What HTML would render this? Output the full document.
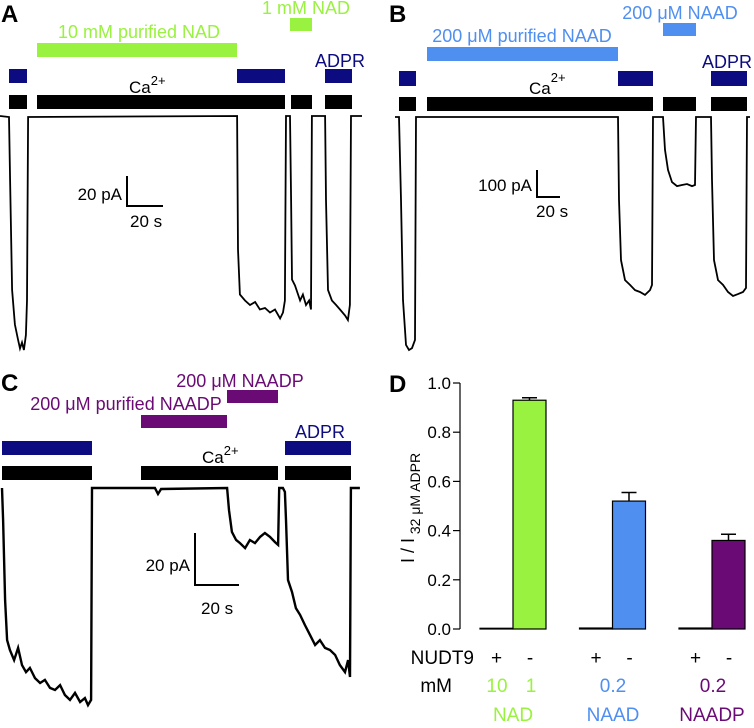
<!DOCTYPE html>
<html><head><meta charset="utf-8">
<style>
html,body{margin:0;padding:0;background:#fff;}
svg{display:block;font-family:"Liberation Sans",Arial,sans-serif;}
</style></head>
<body>
<svg id="fig" width="754" height="728" viewBox="0 0 754 728" xmlns="http://www.w3.org/2000/svg">
<!-- Panel A -->
<g>
<text x="1" y="22" font-size="24" font-weight="bold">A</text>
<text x="139" y="38" font-size="18" fill="#99f23f" text-anchor="middle">10 mM purified NAD</text>
<rect x="37" y="43" width="200" height="14" fill="#99f23f"/>
<text x="306" y="14" font-size="18" fill="#99f23f" text-anchor="middle">1 mM NAD</text>
<rect x="290" y="18" width="22" height="13" fill="#99f23f"/>
<rect x="9" y="69" width="18" height="14" fill="#0c0c80"/>
<rect x="237" y="69" width="48" height="14" fill="#0c0c80"/>
<text x="340" y="67" font-size="18" fill="#0c0c80" text-anchor="middle">ADPR</text>
<rect x="325" y="69" width="27" height="14" fill="#0c0c80"/>
<text x="129" y="93" font-size="17">Ca<tspan font-size="13" dy="-8">2+</tspan></text>
<rect x="9" y="95" width="18" height="14" fill="#000"/>
<rect x="37" y="95" width="248" height="14" fill="#000"/>
<rect x="291" y="95" width="21" height="14" fill="#000"/>
<rect x="325" y="95" width="27" height="14" fill="#000"/>
<path d="M127 176 V206 H163" stroke="#000" stroke-width="2" fill="none"/>
<text x="122" y="200" font-size="17" text-anchor="end">20 pA</text>
<text x="130" y="227" font-size="17">20 s</text>
<polyline id="traceA" fill="none" stroke="#000" stroke-width="1.8"/>
</g>
<!-- Panel B -->
<g>
<text x="389" y="22" font-size="24" font-weight="bold">B</text>
<text x="522" y="42" font-size="18" fill="#4f8ff0" text-anchor="middle">200 μM purified NAAD</text>
<rect x="427" y="47" width="191" height="14" fill="#4f8ff0"/>
<text x="680" y="19" font-size="18" fill="#4f8ff0" text-anchor="middle">200 μM NAAD</text>
<rect x="663" y="23" width="33" height="13" fill="#4f8ff0"/>
<rect x="399" y="71" width="17" height="15" fill="#0c0c80"/>
<rect x="618" y="71" width="35" height="15" fill="#0c0c80"/>
<text x="727" y="68" font-size="18" fill="#0c0c80" text-anchor="middle">ADPR</text>
<rect x="711" y="71" width="36" height="15" fill="#0c0c80"/>
<text x="529" y="94" font-size="17">Ca<tspan font-size="13" dy="-12">2+</tspan></text>
<rect x="399" y="97" width="17" height="14" fill="#000"/>
<rect x="427" y="97" width="226" height="14" fill="#000"/>
<rect x="663" y="97" width="33" height="14" fill="#000"/>
<rect x="711" y="97" width="36" height="14" fill="#000"/>
<path d="M537 170 V197 H560" stroke="#000" stroke-width="2" fill="none"/>
<text x="532" y="191" font-size="17" text-anchor="end">100 pA</text>
<text x="536" y="217" font-size="17">20 s</text>
<polyline id="traceB" fill="none" stroke="#000" stroke-width="1.8"/>
</g>
<!-- Panel C -->
<g>
<text x="1" y="391" font-size="24" font-weight="bold">C</text>
<text x="240" y="387" font-size="18" fill="#6a0a74" text-anchor="middle">200 μM NAADP</text>
<rect x="227" y="390" width="51" height="13" fill="#6a0a74"/>
<text x="126" y="410" font-size="18" fill="#6a0a74" text-anchor="middle">200 μM purified NAADP</text>
<rect x="141" y="415" width="86" height="13" fill="#6a0a74"/>
<rect x="2" y="441" width="90" height="14" fill="#0c0c80"/>
<text x="320" y="438" font-size="18" fill="#0c0c80" text-anchor="middle">ADPR</text>
<rect x="285" y="441" width="66" height="14" fill="#0c0c80"/>
<text x="202" y="463" font-size="17">Ca<tspan font-size="13" dy="-8">2+</tspan></text>
<rect x="2" y="466" width="90" height="14" fill="#000"/>
<rect x="141" y="466" width="137" height="14" fill="#000"/>
<rect x="285" y="466" width="66" height="14" fill="#000"/>
<path d="M195 533 V585 H239" stroke="#000" stroke-width="2" fill="none"/>
<text x="190" y="571" font-size="17" text-anchor="end">20 pA</text>
<text x="201" y="614" font-size="17">20 s</text>
<polyline id="traceC" fill="none" stroke="#000" stroke-width="2.4"/>
</g>
<!-- Panel D -->
<g id="panelD">
<text x="389" y="392" font-size="24" font-weight="bold">D</text>
<line x1="460" y1="383" x2="460" y2="629" stroke="#000" stroke-width="1.2"/>
<text transform="translate(414,508) rotate(-90)" font-size="18" text-anchor="middle">I / I<tspan font-size="14" dy="6"> 32 μM ADPR</tspan></text>
<text x="474" y="664" font-size="19" text-anchor="end">NUDT9</text>
<text x="452" y="692" font-size="19" text-anchor="end">mM</text>
<text x="497" y="692" font-size="19" fill="#99f23f" text-anchor="middle">10</text>
<text x="531" y="692" font-size="19" fill="#99f23f" text-anchor="middle">1</text>
<text x="613" y="692" font-size="19" fill="#4f8ff0" text-anchor="middle">0.2</text>
<text x="713" y="692" font-size="19" fill="#6a0a74" text-anchor="middle">0.2</text>
<text x="513" y="721" font-size="19" fill="#99f23f" text-anchor="middle">NAD</text>
<text x="613" y="721" font-size="19" fill="#4f8ff0" text-anchor="middle">NAAD</text>
<text x="712" y="721" font-size="19" fill="#6a0a74" text-anchor="middle">NAADP</text>
</g>
</svg>
<script>
// Trace data (time in s, current in pA)
const tA=[-5,0,0.6,1.7,3.3,5,6.1,7.2,8.3,9.4,10,10.6,126.7,127.2,128.3,131.1,133.9,136.7,139.4,142.2,145,147.8,150.6,152.2,153.3,153.9,156.1,156.7,157.2,158.9,161.7,163.3,165,166.7,167.8,168.3,175.6,176.1,177.2,179.4,181.7,183.9,186.7,188.3,189.4,190,196.1];
const iA=[0,-0.7,-43,-116,-139,-149,-155,-151,-156,-146,-123,-0.7,0,-89,-119,-123,-126,-124,-129,-128,-131,-129,-135,-131,-123,0,0,-56,-109,-113,-123,-119,-126,-123,-129,0,0,-56,-116,-123,-126,-129,-133,-136,-126,0,0];
const tB=[-3.5,0,1.7,3.5,6.1,8.7,11.3,13.9,14.8,190.4,191.3,193,196.5,200.9,205.2,209.6,213.9,218.3,220,220.9,229.6,231.3,233.9,237.4,241.7,246.1,250.4,254.8,257.4,258.3,271.3,272.2,273.9,277.4,281.7,286.1,290.4,294.8,299.1,301.7,302.6,305.2];
const iB=[0,0,-307,-678,-844,-863,-856,-826,0,0,-307,-530,-604,-622,-641,-648,-659,-641,-622,0,0,-122,-196,-241,-256,-252,-248,-256,-252,0,0,-233,-530,-604,-622,-648,-663,-656,-648,-633,0,0];
const tC=[0,0.5,1.4,2.3,3.6,5.5,7.3,9.1,10.9,12.7,15,17.3,19.5,21.8,24.1,26.4,28.6,30.9,33.2,35.5,37.7,39.1,40.5,40.9,62.7,69.5,70.9,72.3,102.3,103.2,104.5,106.4,108.2,110.5,112.7,115,117.3,119.5,121.8,124.1,125.5,126,127.7,128.6,129.1,130,131.8,133.6,135.5,137.7,140,142.3,144.5,146.8,149.1,151.4,153.6,155.9,157.3,158.2,158.6,162.7];
const iC=[0,-12.3,-43.1,-58.5,-62.3,-66.2,-61.5,-68.1,-70.8,-69.2,-73.1,-75,-73.8,-76.9,-77.7,-75.8,-79.6,-81.5,-78.8,-82.3,-80.8,-83.5,-81.5,0,0,0,-2.3,-0.4,0,-8.5,-16.9,-20,-21.2,-23.1,-20,-21.2,-18.8,-17.3,-18.8,-20.8,-21.9,0,0,-1.5,-12.3,-35.4,-40,-46.2,-48.8,-52.7,-56.5,-60.4,-58.5,-61.5,-62.3,-64.2,-68.1,-70.8,-66.2,-72.7,0,0];
function drawTrace(id,t,i,x0,pxs,y0,pxa){
  const pts=t.map((v,k)=>(x0+v*pxs).toFixed(1)+','+(y0-i[k]*pxa).toFixed(1)).join(' ');
  document.getElementById(id).setAttribute('points',pts);
}
drawTrace('traceA',tA,iA,9,1.8,116,1.5);
drawTrace('traceB',tB,iB,399,1.15,117,0.27);
drawTrace('traceC',tC,iC,2,2.2,488,2.6);

// Panel D bar chart data
const groups=['NAD','NAAD','NAADP'];
const withNudt9=[0.003,0.004,0.004];
const withoutNudt9=[0.93,0.52,0.36];
const errWithout=[0.01,0.035,0.025];
const tickLabels=['0.0','0.2','0.4','0.6','0.8','1.0'];
const tickValues=[0,0.2,0.4,0.6,0.8,1.0];
const colors=['#99f23f','#4f8ff0','#6a0a74'];
const NS='http://www.w3.org/2000/svg';
const D=document.getElementById('panelD');
const yS=v=>629-v*246;
const gx=k=>480+k*99.5;
tickValues.forEach((v,k)=>{
  const l=document.createElementNS(NS,'line');
  l.setAttribute('x1',453);l.setAttribute('x2',460);l.setAttribute('y1',yS(v));l.setAttribute('y2',yS(v));
  l.setAttribute('stroke','#000');l.setAttribute('stroke-width','1.2');
  
  
  D.appendChild(l);
  const t=document.createElementNS(NS,'text');
  t.setAttribute('x',451);t.setAttribute('y',yS(v)+6);t.setAttribute('font-size','17');t.setAttribute('text-anchor','end');
  t.textContent=tickLabels[k];
  
  
  D.appendChild(t);
});
groups.forEach((g,k)=>{
  const x=gx(k);
  const b1=document.createElementNS(NS,'rect');
  b1.setAttribute('x',x);b1.setAttribute('width',33);
  b1.setAttribute('y',yS(withNudt9[k]));b1.setAttribute('height',629-yS(withNudt9[k]));
  b1.setAttribute('fill',colors[k]);b1.setAttribute('stroke','#000');b1.setAttribute('stroke-width','1.2');
  
  
  D.appendChild(b1);
  const b2=document.createElementNS(NS,'rect');
  b2.setAttribute('x',x+33);b2.setAttribute('width',33);
  b2.setAttribute('y',yS(withoutNudt9[k]));b2.setAttribute('height',629-yS(withoutNudt9[k]));
  b2.setAttribute('fill',colors[k]);b2.setAttribute('stroke','#000');b2.setAttribute('stroke-width','1.2');
  
  
  D.appendChild(b2);
  const ye=yS(withoutNudt9[k]+errWithout[k]);
  const e=document.createElementNS(NS,'path');
  e.setAttribute('d',`M${x+49.5} ${yS(withoutNudt9[k])} V${ye} M${x+42} ${ye} H${x+57}`);
  e.setAttribute('stroke','#000');e.setAttribute('stroke-width','1.5');e.setAttribute('fill','none');
  
  
  D.appendChild(e);
  const p=document.createElementNS(NS,'text');
  p.setAttribute('x',x+16.5);p.setAttribute('y',664);p.setAttribute('font-size','19');p.setAttribute('text-anchor','middle');
  p.textContent='+';
  
  
  D.appendChild(p);
  const m=document.createElementNS(NS,'text');
  m.setAttribute('x',x+50);m.setAttribute('y',664);m.setAttribute('font-size','19');m.setAttribute('text-anchor','middle');
  m.textContent='-';
  
  
  D.appendChild(m);
});
</script>
</body></html>
